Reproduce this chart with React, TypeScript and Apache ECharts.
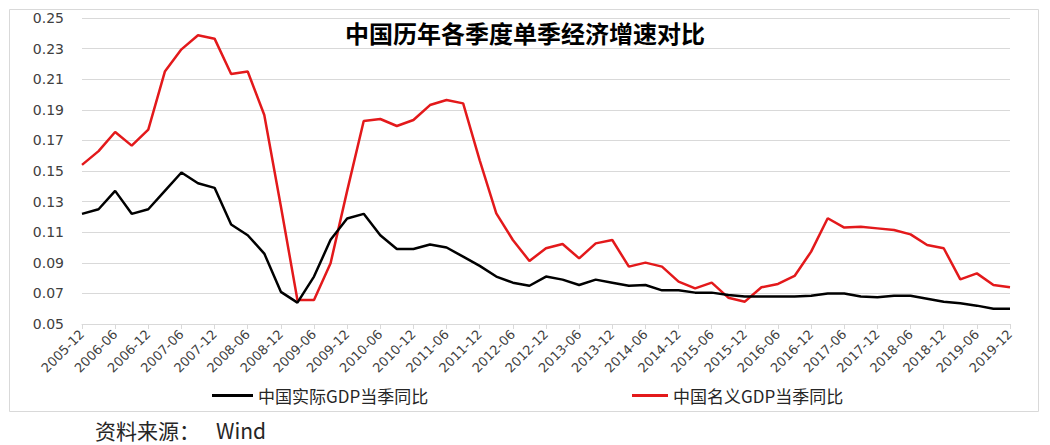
import React, { useEffect, useRef } from "react";
import * as echarts from "echarts";

const quarters: string[] = [
  "2005-12",
  "2006-03", "2006-06", "2006-09", "2006-12",
  "2007-03", "2007-06", "2007-09", "2007-12",
  "2008-03", "2008-06", "2008-09", "2008-12",
  "2009-03", "2009-06", "2009-09", "2009-12",
  "2010-03", "2010-06", "2010-09", "2010-12",
  "2011-03", "2011-06", "2011-09", "2011-12",
  "2012-03", "2012-06", "2012-09", "2012-12",
  "2013-03", "2013-06", "2013-09", "2013-12",
  "2014-03", "2014-06", "2014-09", "2014-12",
  "2015-03", "2015-06", "2015-09", "2015-12",
  "2016-03", "2016-06", "2016-09", "2016-12",
  "2017-03", "2017-06", "2017-09", "2017-12",
  "2018-03", "2018-06", "2018-09", "2018-12",
  "2019-03", "2019-06", "2019-09", "2019-12",
];

const realGdp: number[] = [
  0.122,
  0.125, 0.137, 0.122, 0.125,
  0.137, 0.149, 0.142, 0.139,
  0.115, 0.108, 0.096, 0.071,
  0.064, 0.081, 0.105, 0.119,
  0.122, 0.108, 0.099, 0.099,
  0.102, 0.1, 0.094, 0.088,
  0.081, 0.077, 0.075, 0.081,
  0.079, 0.0755, 0.079, 0.077,
  0.075, 0.0755, 0.072, 0.072,
  0.0705, 0.0705, 0.069, 0.068,
  0.068, 0.068, 0.068, 0.0685,
  0.07, 0.07, 0.068, 0.0675,
  0.0685, 0.0685, 0.0665, 0.0645,
  0.0635, 0.062, 0.06, 0.06,
];

const nominalGdp: number[] = [
  0.154,
  0.163, 0.1755, 0.1666, 0.177,
  0.215, 0.2295, 0.2387, 0.2365,
  0.2134, 0.215, 0.1866, 0.127,
  0.0657, 0.0657, 0.0897, 0.137,
  0.1827, 0.184, 0.1794, 0.1833,
  0.1931, 0.1964, 0.1942, 0.157,
  0.1223, 0.1049, 0.0912, 0.0995,
  0.1023, 0.0929, 0.1027, 0.1049,
  0.0875, 0.0901, 0.0875, 0.0777,
  0.0733, 0.077, 0.0672, 0.0646,
  0.074, 0.0762, 0.0814, 0.0973,
  0.1191, 0.113, 0.1136, 0.1125,
  0.1114, 0.1086, 0.1016, 0.0995,
  0.0792, 0.0831, 0.0755, 0.074,
];

const yTicks: number[] = [0.05, 0.07, 0.09, 0.11, 0.13, 0.15, 0.17, 0.19, 0.21, 0.23, 0.25];

const seriesNames: string[] = ["中国实际GDP当季同比", "中国名义GDP当季同比"];
const titleText = "中国历年各季度单季经济增速对比";
const sourceLabel = "资料来源：";
const sourceName = "Wind";

const CJK = '"Noto Sans CJK SC", "Noto Sans", sans-serif';
const LATIN = '"DejaVu Sans", sans-serif';

export default function App() {
  const ref = useRef<HTMLDivElement>(null);

  useEffect(() => {
    if (!ref.current) return;
    const chart = echarts.init(ref.current, null, { renderer: "svg" });
    chart.setOption({
      animation: false,
      backgroundColor: "#ffffff",
      title: {
        text: titleText,
        left: "center",
        top: 15,
        textStyle: { fontFamily: CJK, fontSize: 24, fontWeight: "bold", color: "#000000" },
      },
      graphic: [
        {
          type: "rect",
          z: -1,
          shape: { x: 9.5, y: 9.5, width: 1029, height: 402 },
          style: { fill: "none", stroke: "#d9d9d9", lineWidth: 1 },
        },
        {
          type: "text",
          x: 95,
          y: 430,
          style: {
            text: sourceLabel,
            fontFamily: CJK,
            fontSize: 21,
            fill: "#262626",
            verticalAlign: "middle",
            textAlign: "left",
          },
        },
        {
          type: "text",
          x: 216,
          y: 430,
          style: {
            text: sourceName,
            fontFamily: CJK,
            fontSize: 21,
            fill: "#262626",
            verticalAlign: "middle",
            textAlign: "left",
          },
        },
      ],
      legend: [
        {
          data: [seriesNames[0]],
          left: 207,
          top: 382,
          icon: "rect",
          itemWidth: 41,
          itemHeight: 3,
          textStyle: { fontFamily: CJK, fontSize: 17, color: "#262626" },
        },
        {
          data: [seriesNames[1]],
          left: 627,
          top: 382,
          icon: "rect",
          itemWidth: 36,
          itemHeight: 3,
          textStyle: { fontFamily: CJK, fontSize: 17, color: "#262626" },
        },
      ],
      grid: { left: 82, right: 40, top: 18, bottom: 121, containLabel: false },
      xAxis: {
        type: "category",
        data: quarters,
        boundaryGap: false,
        axisLine: { lineStyle: { color: "#d9d9d9", width: 1 } },
        axisTick: { show: true, interval: 1, length: 5, lineStyle: { color: "#d9d9d9" } },
        axisLabel: {
          interval: 1,
          rotate: 45,
          margin: 8,
          fontFamily: LATIN,
          fontSize: 13,
          color: "#404040",
        },
        splitLine: { show: false },
      },
      yAxis: {
        type: "value",
        min: 0.05,
        max: 0.25,
        axisLine: { show: false },
        axisTick: { show: false, customValues: yTicks },
        axisLabel: {
          customValues: yTicks,
          margin: 18,
          fontFamily: LATIN,
          fontSize: 14,
          color: "#404040",
          formatter: (v: number) => v.toFixed(2),
        },
        splitLine: { show: true, lineStyle: { color: "#d9d9d9", width: 1 } },
      },
      series: [
        {
          name: seriesNames[0],
          type: "line",
          data: realGdp,
          showSymbol: false,
          symbol: "none",
          color: "#000000",
          lineStyle: { color: "#000000", width: 2.5 },
          z: 3,
        },
        {
          name: seriesNames[1],
          type: "line",
          data: nominalGdp,
          showSymbol: false,
          symbol: "none",
          color: "#e3191b",
          lineStyle: { color: "#e3191b", width: 2.5 },
          z: 2,
        },
      ],
    });
    return () => chart.dispose();
  }, []);

  return (
    <div
      ref={ref}
      style={{ position: "absolute", left: 0, top: 0, width: 1050, height: 445 }}
    />
  );
}
